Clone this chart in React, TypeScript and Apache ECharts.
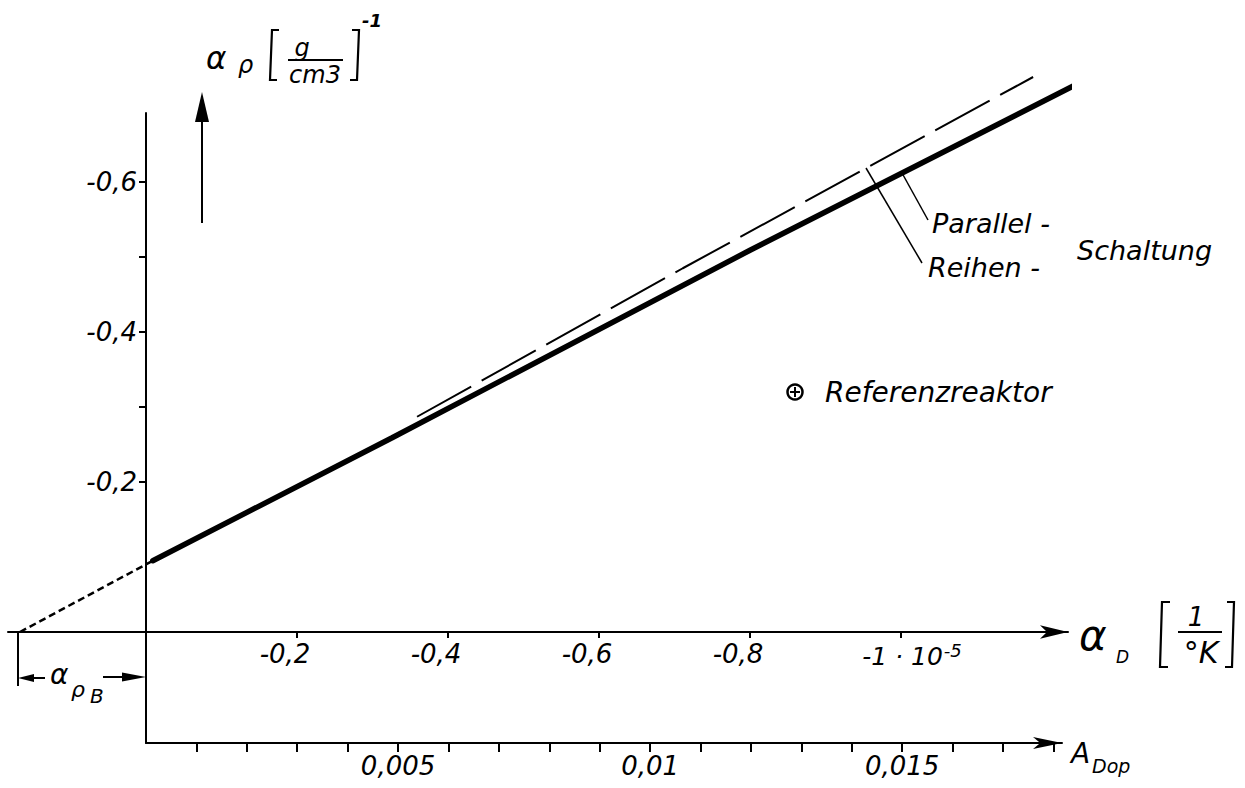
import React, { useEffect, useRef } from "react";
import * as echarts from "echarts";

// α_D [1/°K] (×1e-5) and α_ρ [(g/cm3)^-1]
const PARALLEL_AD = [-0.009, -0.326, -0.8, -1.238];
const PARALLEL_AR = [-0.095, -0.259, -0.509, -0.733];
const REIHEN_AD = [-0.359, -0.711, -1.175];
const REIHEN_AR = [-0.287, -0.485, -0.74];
const EXTRAP_AD = [0.167, -0.009];
const EXTRAP_AR = [0, -0.095];

const AD_TICKS = [-0.2, -0.4, -0.6, -0.8, -1.0];
const AR_TICKS = [-0.6, -0.5, -0.4, -0.3, -0.2];
const AR_LABELS = [-0.6, -0.4, -0.2];
const ADOP_TICKS = [0.001, 0.002, 0.003, 0.004, 0.005, 0.006, 0.007, 0.008, 0.009, 0.01, 0.011, 0.012, 0.013, 0.014, 0.015, 0.016, 0.017, 0.018];
const ADOP_LABELS = [0.005, 0.01, 0.015];

const AD_MIN = -1.2212;
const AD_MAX = 0.1828;
const AR_MIN = -0.692;
const AR_MAX = 0.148;
const ADOP_MAX = 0.01817;

const FONT = "DejaVu Sans";

const pairs = (xs: number[], ys: number[]) => xs.map((x, i) => [x, ys[i]]);
const comma = (v: number, d: number) => v.toFixed(d).replace(".", ",");

function txt(text: string, x: number, y: number, size: number, align = "left", extra: any = {}) {
  return {
    type: "text",
    x,
    y,
    silent: true,
    style: {
      text,
      fill: "#000",
      fontSize: size,
      fontFamily: FONT,
      fontStyle: "italic",
      align,
      verticalAlign: "middle",
      ...extra,
    },
  };
}
function ln(x1: number, y1: number, x2: number, y2: number, w = 2) {
  return { type: "line", silent: true, shape: { x1, y1, x2, y2 }, style: { stroke: "#000", lineWidth: w } };
}
function poly(points: number[][]) {
  return { type: "polygon", silent: true, shape: { points }, style: { fill: "#000" } };
}
function pline(points: number[][], w = 2.2) {
  return { type: "polyline", silent: true, shape: { points }, style: { stroke: "#000", lineWidth: w, fill: null } };
}

export default function App() {
  const ref = useRef<HTMLDivElement>(null);
  useEffect(() => {
    if (!ref.current) return;
    const chart = echarts.init(ref.current, null, { renderer: "svg" });
    const labelStyle = { color: "#000", fontFamily: FONT, fontStyle: "italic", fontSize: 26 };
    const g = (o: any) => ({ outerBoundsMode: "none", containLabel: false, ...o });
    const hiddenX = (gi: number) => ({ type: "value", gridIndex: gi, show: false, min: 0, max: 1 });
    const hiddenY = (gi: number) => ({ type: "value", gridIndex: gi, show: false, min: 0, max: 1 });
    chart.setOption({
      animation: false,
      backgroundColor: "#fff",
      grid: [
        g({ left: 8, right: 177, top: 113, bottom: 45 }), // 0: plot area
        g({ left: 8, right: 177, top: 622, height: 10 }), // 1: α_D axis at α_ρ = 0
        g({ left: 146, width: 10, top: 113, bottom: 45 }), // 2: α_ρ axis at α_D = 0
        g({ left: 146, right: 183, top: 733, height: 10 }), // 3: A_Dop axis
      ],
      xAxis: [
        { type: "value", gridIndex: 0, show: false, inverse: true, min: AD_MIN, max: AD_MAX },
        {
          type: "value",
          gridIndex: 1,
          position: "bottom",
          inverse: true,
          min: AD_MIN,
          max: AD_MAX,
          axisLine: { onZero: false, symbol: ["none", "arrow"], symbolSize: [10, 28], lineStyle: { color: "#000", width: 2 } },
          axisTick: { customValues: AD_TICKS, length: 6, lineStyle: { color: "#000", width: 2 } },
          axisLabel: {
            customValues: AD_TICKS,
            margin: 9,
            padding: [0, 24, 0, 0],
            ...labelStyle,
            formatter: (v: number) => (Math.abs(v + 1) < 1e-9 ? "{b|-1 · 10}{s|-5}" : comma(v, 1)),
            rich: {
              b: { ...labelStyle, fontSize: 25, lineHeight: 30, padding: [0, 0, 0, 46] },
              s: { ...labelStyle, fontSize: 18, lineHeight: 12, verticalAlign: "top", padding: [0, 0, 0, 1] },
            },
          },
          splitLine: { show: false },
        },
        hiddenX(2),
        {
          type: "value",
          gridIndex: 3,
          position: "bottom",
          min: 0,
          max: ADOP_MAX,
          axisLine: { onZero: false, symbol: ["none", "arrow"], symbolSize: [9, 29], lineStyle: { color: "#000", width: 2 } },
          axisTick: { customValues: ADOP_TICKS, length: 9, lineStyle: { color: "#000", width: 2 } },
          axisLabel: { customValues: ADOP_LABELS, margin: 10, ...labelStyle, formatter: (v: number) => String(v).replace(".", ",") },
          splitLine: { show: false },
        },
      ],
      yAxis: [
        { type: "value", gridIndex: 0, show: false, inverse: true, min: AR_MIN, max: AR_MAX },
        hiddenY(1),
        {
          type: "value",
          gridIndex: 2,
          position: "left",
          inverse: true,
          min: AR_MIN,
          max: AR_MAX,
          axisLine: { onZero: false, lineStyle: { color: "#000", width: 2 } },
          axisTick: { customValues: AR_TICKS, length: 7, lineStyle: { color: "#000", width: 2 } },
          axisLabel: {
            customValues: AR_LABELS,
            margin: 9,
            padding: [10, 0, 0, 0],
            ...labelStyle,
            formatter: (v: number) => comma(v, 1),
          },
          splitLine: { show: false },
        },
        hiddenY(3),
      ],
      series: [
        {
          type: "line",
          name: "Parallel-Schaltung",
          xAxisIndex: 0,
          yAxisIndex: 0,
          data: pairs(PARALLEL_AD, PARALLEL_AR),
          showSymbol: false,
          silent: true,
          clip: false,
          lineStyle: { color: "#000", width: 5.5, cap: "round" },
        },
        {
          type: "line",
          name: "Reihen-Schaltung",
          xAxisIndex: 0,
          yAxisIndex: 0,
          data: pairs(REIHEN_AD, REIHEN_AR),
          showSymbol: false,
          silent: true,
          clip: false,
          lineStyle: { color: "#000", width: 2, type: [62, 12] },
        },
        {
          type: "line",
          name: "Extrapolation",
          xAxisIndex: 0,
          yAxisIndex: 0,
          data: pairs(EXTRAP_AD, EXTRAP_AR),
          showSymbol: false,
          silent: true,
          clip: false,
          lineStyle: { color: "#000", width: 2.5, type: [7, 4] },
        },
      ],
      graphic: {
        elements: [
          // y-axis title α_ρ [g/cm3]^-1
          txt("α", 206, 58, 31),
          txt("ρ", 238, 65, 24),
          pline([[279, 30], [272, 30], [270, 80], [277, 80]]),
          txt("g", 302, 48, 24, "center"),
          ln(288, 60, 343, 60, 2),
          txt("cm3", 315, 75, 24, "center"),
          pline([[352, 30], [359, 30], [357, 80], [350, 80]]),
          txt("-1", 362, 20, 18, "left", { fontWeight: "bold" }),
          // upward arrow
          ln(202, 223, 202, 118, 2),
          poly([[202, 92], [195, 122], [209, 122]]),
          // x-axis title α_D [1/°K]
          txt("α", 1079, 635, 42),
          txt("D", 1116, 657, 17),
          pline([[1170, 602], [1162, 602], [1160, 667], [1168, 667]]),
          txt("1", 1196, 617, 26, "center"),
          ln(1178, 632, 1222, 632, 2),
          txt("°K", 1201, 652, 30, "center"),
          pline([[1227, 602], [1234, 602], [1232, 667], [1225, 667]]),
          // A_Dop
          txt("A", 1071, 753, 28),
          txt("Dop", 1092, 766, 19),
          // α_ρB bracket
          ln(18, 632, 18, 686, 2),
          poly([[18, 678], [34, 674], [34, 682]]),
          ln(34, 678, 45, 678, 2),
          txt("α", 50, 674, 28),
          txt("ρ", 71, 689, 22),
          txt("B", 90, 696, 20),
          ln(103, 677, 123, 677, 2),
          poly([[146, 677], [122, 672.5], [122, 681.5]]),
          // leaders and curve labels
          ln(866, 168, 922, 263, 1.5),
          ln(902, 173, 928, 220, 1.5),
          txt("Parallel -", 932, 223, 27),
          txt("Reihen -", 928, 267, 27),
          txt("Schaltung", 1077, 250, 27),
          // Referenzreaktor
          { type: "circle", silent: true, shape: { cx: 795, cy: 392, r: 7.5 }, style: { stroke: "#000", lineWidth: 2.5, fill: "none" } },
          ln(790, 392, 800, 392, 2),
          ln(795, 387, 795, 397, 2),
          txt("Referenzreaktor", 825, 392, 28),
        ],
      },
    });
    return () => chart.dispose();
  }, []);
  return (
    <div
      ref={ref}
      style={{ position: "fixed", left: 0, top: 0, width: 1245, height: 788, background: "#fff" }}
    />
  );
}
